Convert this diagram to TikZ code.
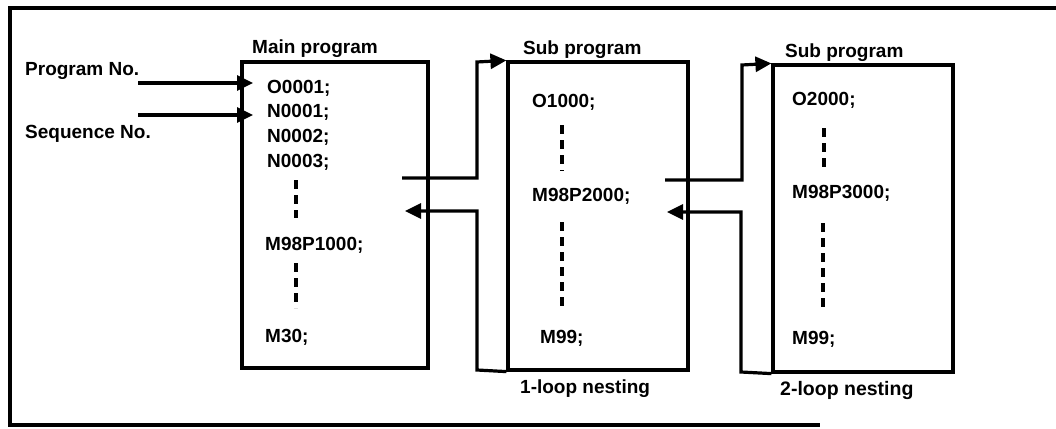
\documentclass[tikz,border=0pt]{standalone}
\usepackage{fontspec}
\setmainfont{Liberation Sans}
\usetikzlibrary{arrows.meta}
\tikzset{
  txt/.style={anchor=base west, inner sep=0pt, font=\fontsize{19}{22}\selectfont\bfseries},
  box/.style={draw, line width=3.2pt, inner sep=0pt, minimum width=#1},
  conn/.style={draw, line width=3.2pt},
  arr/.style={conn, -{Triangle[length=16pt,width=15pt]}},
  dots/.style={line width=3.4pt, dash pattern=on 9pt off 6pt},
  frame/.style={line width=3.5pt}
}
\begin{document}
\begin{tikzpicture}[x=1pt,y=-1pt]
\useasboundingbox (0,0) rectangle (1056,428);
% outer frame
\draw[frame] (1056,8) -- (10,8) -- (10,425) -- (820,425);

% boxes
\node[box=186pt, minimum height=306pt] (main) at (335,215) {};
\node[box=180pt, minimum height=308pt] (sub1) at (598,216) {};
\node[box=180pt, minimum height=307pt] (sub2) at (863,218.5) {};

% headings
\node[txt] (hmain) at (252,53) {Main program};
\node[txt] (hsub1) at (523,55) {Sub program};
\node[txt] (hsub2) at (785,57) {Sub program};

% left labels
\node[txt] (pno) at (25,75) {Program No.};
\node[txt] (sno) at (25,138) {Sequence No.};
\coordinate (a1s) at (138,83);
\coordinate (a1e) at (253,83);
\coordinate (a2s) at (138,115);
\coordinate (a2e) at (253,115);
\draw[arr] (a1s) -- (a1e);
\draw[arr] (a2s) -- (a2e);

% main program text
\node[txt] (m1) at (267,93) {O0001;};
\node[txt] (m2) at (267,117) {N0001;};
\node[txt] (m3) at (267,142) {N0002;};
\node[txt] (m4) at (267,167) {N0003;};
\node[txt] (m5) at (265,250) {M98P1000;};
\node[txt] (m6) at (265,342) {M30;};
\draw[dots] (296,180) -- (296,218);
\draw[dots] (296,263) -- (296,308);

% sub program 1 text
\node[txt] (s1) at (532,107) {O1000;};
\node[txt] (s2) at (532,201) {M98P2000;};
\node[txt] (s3) at (540,343) {M99;};
\draw[dots] (562,125) -- (562,171);
\draw[dots] (562,222) -- (562,308);

% sub program 2 text
\node[txt] (t1) at (792,105) {O2000;};
\node[txt] (t2) at (792,198) {M98P3000;};
\node[txt] (t3) at (792,344) {M99;};
\draw[dots] (824,128) -- (824,171);
\draw[dots] (823,223) -- (823,309);

% nesting labels
\node[txt] (n1) at (520,393) {1-loop nesting};
\node[txt, font=\fontsize{19.5}{22}\selectfont\bfseries] (n2) at (780,395) {2-loop nesting};

% call / return connectors, main <-> sub1
\coordinate (c1s) at (402,178);
\coordinate (c1v) at (477,62);
\draw[arr] (c1s) -| (c1v) -- (sub1.north west);
\coordinate (r1b) at (477,370);
\coordinate (r1e) at (405,211);
\draw[arr] (sub1.south west) -- (r1b) |- (r1e);

% call / return connectors, sub1 <-> sub2
\coordinate (c2s) at (665,180);
\coordinate (c2v) at (742,65);
\draw[arr] (c2s) -| (c2v) -- (sub2.north west);
\coordinate (r2b) at (741,372);
\coordinate (r2e) at (667,212);
\draw[arr] (sub2.south west) -- (r2b) |- (r2e);
\end{tikzpicture}
\end{document}
